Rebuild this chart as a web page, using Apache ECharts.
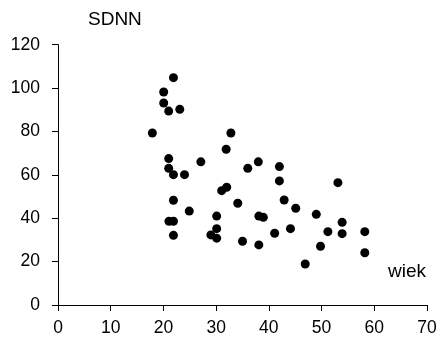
<!DOCTYPE html>
<html>
<head>
<meta charset="utf-8">
<script src="https://cdn.jsdelivr.net/npm/echarts@6/dist/echarts.min.js"></script>
<style>html,body{margin:0;padding:0;background:#fff}#c{width:441px;height:344px}</style>
</head>
<body>
<div id="c"></div>
<script>
var wiek = [21.9,20.05,20.05,21,23.1,17.9,32.8,31.9,21,27.1,21,21.9,24,36,38,42,42,32,31.05,34.1,42.9,45.1,49,24.9,30.1,38.1,38.95,30.1,29,30.1,35,38.1,41.1,44.1,49.8,46.9,53.1,53.9,51.2,53.9,58.2,58.2,21.9,21.05,21.9,21.9];
var sdnn = [104.8,98.2,93.1,89.4,90.2,79.3,79.3,71.8,67.5,66,63,60.1,60.1,63,66,63.8,57.2,54.3,52.7,46.9,48.4,44.6,41.8,43.3,41,41,40.4,35.2,32.3,30.8,29.4,27.7,33.1,35.2,27.1,18.9,56.4,38.1,33.8,32.9,33.8,24.1,48.3,38.6,38.6,32.1];
var xTicks = [0,10,20,30,40,50,60,70];
var yTicks = [0,20,40,60,80,100,120];
var xName = 'wiek';
var yName = 'SDNN';

var points = wiek.map(function(v,i){return [v, sdnn[i]];});
var font = '"Liberation Sans", Arial, sans-serif';
var chart = echarts.init(document.getElementById('c'));
chart.setOption({
  animation: false,
  grid: {left: 58, right: 14, top: 44.7, bottom: 39, containLabel: false},
  xAxis: {
    type: 'value', min: xTicks[0], max: xTicks[xTicks.length-1], interval: 10,
    axisLine: {show: true, onZero: false, lineStyle: {color: '#000', width: 1}},
    axisTick: {show: true, length: 6, lineStyle: {color: '#000'}},
    axisLabel: {color: '#000', fontSize: 17.5, fontFamily: font, margin: 14},
    splitLine: {show: false}
  },
  yAxis: {
    type: 'value', min: yTicks[0], max: yTicks[yTicks.length-1], interval: 20,
    axisLine: {show: true, onZero: false, lineStyle: {color: '#000', width: 1}},
    axisTick: {show: true, length: 6, lineStyle: {color: '#000'}},
    axisLabel: {color: '#000', fontSize: 17.5, fontFamily: font, margin: 18},
    splitLine: {show: false}
  },
  graphic: [
    {type: 'text', x: 88, y: 20, style: {text: yName, fill: '#000', font: '19px ' + font, align: 'left', verticalAlign: 'middle'}},
    {type: 'text', x: 388, y: 271.5, style: {text: xName, fill: '#000', font: '19px ' + font, align: 'left', verticalAlign: 'middle'}}
  ],
  series: [{
    type: 'scatter', data: points, symbol: 'circle', symbolSize: 9,
    itemStyle: {color: '#000', opacity: 1}
  }]
});
</script>
</body>
</html>
